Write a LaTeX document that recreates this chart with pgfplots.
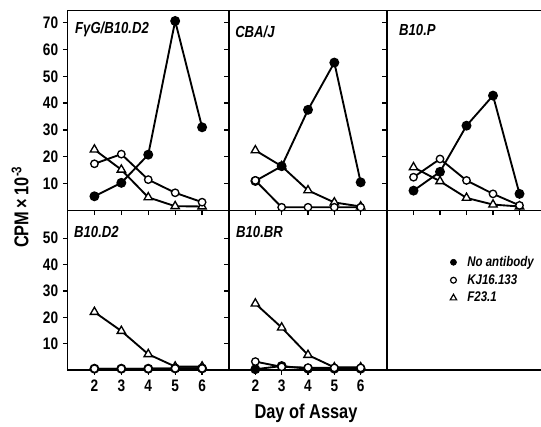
\documentclass[border=0pt]{standalone}
\usepackage{pgfplots}
\pgfplotsset{compat=1.18}
\usepackage{fontspec}
\setmainfont{Liberation Sans}[FakeStretch=0.82]

\tikzset{plab/.style={anchor=west, inner sep=0pt, font=\fontsize{12}{14}\selectfont\bfseries\itshape}}
\pgfplotsset{
  panel/.style={scale only axis, xmin=1, xmax=7, ymin=0, clip=false,
    xtick={2,3,4,5,6}, xticklabels={}, yticklabels={},
    tick align=outside, xtick pos=left, ytick pos=left,
    major tick length=3.5pt,
    axis line style={line width=1.1pt},
    tick style={line width=1pt, black},
    /pgf/number format/assume math mode=true,
    ticklabel style={font=\fontsize{12.5}{14}\selectfont\bfseries},
    xticklabel style={yshift=-0.5pt},
    yticklabel style={xshift=0pt},
  },
  toprow/.style={panel, ymax=74.5, ytick={10,20,...,70}, height=150pt},
  botrow/.style={panel, ymax=60.5, ytick={10,20,...,50}, height=119.625pt},
  sfill/.style={black, line width=1.4pt, mark=*, mark size=3pt, mark options={solid, fill=black}},
  sopen/.style={black, line width=1.4pt, mark=*, mark size=2.8pt, mark options={solid, fill=white, line width=1pt}},
  stri/.style={black, line width=1.4pt, mark=triangle*, mark size=3.6pt, mark options={solid, fill=white, line width=1pt}},
}

\begin{document}
\begin{tikzpicture}
\useasboundingbox (0,0) rectangle (405.75pt,319.5pt);

% ---------- top row ----------
\begin{axis}[toprow, at={(50.625pt,161.625pt)}, anchor=south west, width=121.125pt,
  yticklabels={10,20,30,40,50,60,70}]
\addplot[stri] coordinates {(2,22.7) (3,15.2) (4,4.9) (5,1.6) (6,1.5)};
\addplot[sfill] coordinates {(2,5.3) (3,10.3) (4,20.8) (5,70.6) (6,31)};
\addplot[sopen] coordinates {(2,17.4) (3,21) (4,11.5) (5,6.6) (6,3.1)};
\node[plab] at (rel axis cs:0.046,0.905) {FγG/B10.D2};
\end{axis}

\begin{axis}[toprow, at={(171.75pt,161.625pt)}, anchor=south west, width=118.5pt]
\addplot[stri] coordinates {(2,22.4) (3,16.5) (4,7.5) (5,3) (6,1.5)};
\addplot[sfill] coordinates {(2,11) (3,16.5) (4,37.5) (5,55.1) (6,10.5)};
\addplot[sopen] coordinates {(2,11.2) (3,1.2) (4,1.2) (5,1.2) (6,1.2)};
\node[plab] at (rel axis cs:0.038,0.895) {CBA/J};
\end{axis}

\begin{axis}[toprow, at={(290.25pt,161.625pt)}, anchor=south west, width=119.25pt]
\addplot[stri] coordinates {(2,16.1) (3,10.9) (4,4.7) (5,2.2) (6,1.5)};
\addplot[sfill] coordinates {(2,7.4) (3,14.4) (4,31.6) (5,42.8) (6,6.2)};
\addplot[sopen] coordinates {(2,12.4) (3,19.2) (4,11.2) (5,6.2) (6,1.9)};
\node[plab] at (rel axis cs:0.075,0.905) {B10.P};
\end{axis}

% ---------- bottom row ----------
\begin{axis}[botrow, at={(50.625pt,42pt)}, anchor=south west, width=121.125pt,
  xticklabels={2,3,4,5,6}, yticklabels={10,20,30,40,50}]
\addplot[stri] coordinates {(2,22) (3,14.8) (4,6) (5,1.3) (6,1.3)};
\addplot[sfill] coordinates {(2,0.5) (3,0.5) (4,0.5) (5,0.6) (6,0.6)};
\addplot[sopen] coordinates {(2,0.5) (3,0.5) (4,0.5) (5,0.6) (6,0.6)};
\node[plab] at (rel axis cs:0.04,0.865) {B10.D2};
\end{axis}

\begin{axis}[botrow, at={(171.75pt,42pt)}, anchor=south west, width=118.5pt,
  xticklabels={2,3,4,5,6}]
\addplot[stri] coordinates {(2,25.2) (3,16.1) (4,5.7) (5,1) (6,1)};
\addplot[sfill] coordinates {(2,0.3) (3,1.5) (4,0.5) (5,0.5) (6,0.5)};
\addplot[sopen] coordinates {(2,3.2) (3,1.2) (4,0.9) (5,0.8) (6,0.8)};
\node[plab] at (rel axis cs:0.044,0.865) {B10.BR};
\end{axis}

\begin{axis}[botrow, at={(290.25pt,42pt)}, anchor=south west, width=119.25pt,
  xtick=\empty, ytick=\empty,
  legend cell align=left,
  legend image code/.code={\draw[#1] plot coordinates {(0pt,0pt)};},
  legend style={draw=none, fill=none, at={(rel axis cs:0.396,0.564)}, anchor=west,
    inner sep=0pt, row sep=4.5pt,
    font=\fontsize{10.5}{12}\selectfont\bfseries\itshape,
    nodes={inner sep=0pt},
    /tikz/every odd column/.append style={column sep=8pt}}]
\addlegendimage{only marks, mark=*, mark size=2.3pt, mark options={fill=black}}
\addlegendentry{No antibody}
\addlegendimage{only marks, mark=*, mark size=2.2pt, mark options={fill=white, line width=0.9pt}}
\addlegendentry{KJ16.133}
\addlegendimage{only marks, mark=triangle*, mark size=2.8pt, mark options={fill=white, line width=0.9pt}}
\addlegendentry{F23.1}
\end{axis}

% ---------- axis titles ----------
\node[rotate=90, font=\fontsize{15}{17}\selectfont\bfseries] at (15pt,164.25pt)
  {CPM\,×\,10\textsuperscript{-3}};
\node[font=\fontsize{15}{17}\selectfont\bfseries] at (229.5pt,9.75pt) {Day of Assay};
\end{tikzpicture}
\end{document}
